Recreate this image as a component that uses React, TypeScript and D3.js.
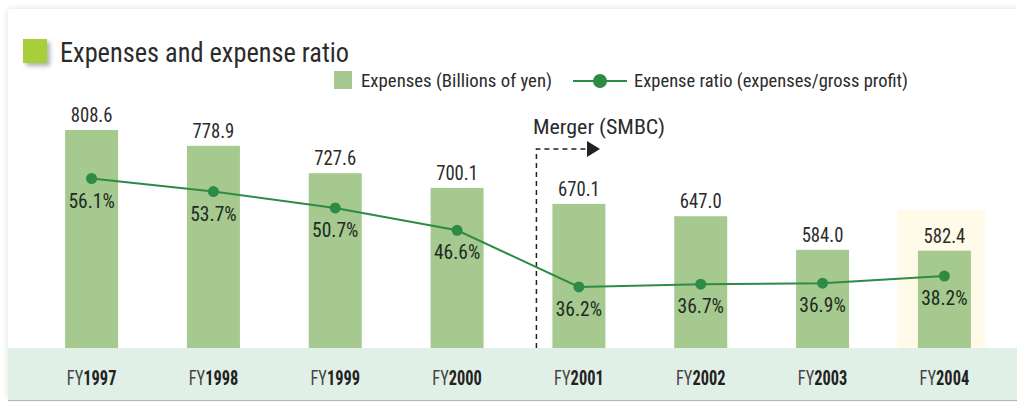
import React from "react";
import * as d3 from "d3";

const categories = ["1997", "1998", "1999", "2000", "2001", "2002", "2003", "2004"];
const expenses = [808.6, 778.9, 727.6, 700.1, 670.1, 647.0, 584.0, 582.4];
const ratios = [56.1, 53.7, 50.7, 46.6, 36.2, 36.7, 36.9, 38.2];
const expenseLabels = ["808.6", "778.9", "727.6", "700.1", "670.1", "647.0", "584.0", "582.4"];
const ratioLabels = ["56.1%", "53.7%", "50.7%", "46.6%", "36.2%", "36.7%", "36.9%", "38.2%"];

const W = 1017;
const H = 402;
const FONT = "'Liberation Sans Narrow', 'Roboto Condensed', 'Arial Narrow', sans-serif";

// approximate condensed width of a numeric label
const numWidth = (s: string) =>
  s.split("").reduce((a, ch) => a + (ch === "." ? 4.2 : ch === "%" ? 14 : 9.4), 0);

export default function App() {
  const x = d3.scaleBand<string>().domain(categories).range([31, 1005]).paddingInner(0.565).paddingOuter(0.28);
  const y = d3.scaleLinear().domain([400, 808.6]).range([348, 130]);
  const y2 = d3.scaleLinear().domain([25, 65]).range([348, 130]);
  const bw = x.bandwidth();
  const cx = (c: string) => (x(c) as number) + bw / 2;
  const line = d3
    .line<number>()
    .x((_, i) => cx(categories[i]))
    .y((d) => y2(d));

  const mergerX = (x("2001") as number) - 16;
  const last = categories[categories.length - 1];

  return (
    <svg width={W} height={H} style={{ position: "absolute", left: 0, top: 0 }} fontFamily={FONT}>
      <defs>
        <filter id="card" x="-5%" y="-5%" width="110%" height="110%">
          <feDropShadow dx="0" dy="0" stdDeviation="3" floodColor="#000" floodOpacity="0.12" />
        </filter>
        <filter id="sq" x="-50%" y="-50%" width="200%" height="200%">
          <feDropShadow dx="3" dy="3" stdDeviation="2" floodColor="#000" floodOpacity="0.3" />
        </filter>
      </defs>
      <rect x={0} y={0} width={W} height={H} fill="#ffffff" />
      <rect x={8} y={9} width={W} height={391} fill="#ffffff" filter="url(#card)" />
      <rect x={8} y={348} width={W} height={52} fill="#e1f0e6" />
      <line x1={8} x2={W} y1={400.5} y2={400.5} stroke="#b5b5b5" strokeWidth={1} />

      {/* title */}
      <rect x={23} y={39} width={24} height={24} fill="#a6cf3a" filter="url(#sq)" />
      <text x={60} y={62} fontSize={28} fill="#2b2b2b" textLength={289} lengthAdjust="spacingAndGlyphs">
        Expenses and expense ratio
      </text>

      {/* legend */}
      <rect x={334} y={71} width={18} height={18} fill="#a5c98f" />
      <text x={361} y={87} fontSize={19} fill="#2b2b2b" textLength={191} lengthAdjust="spacingAndGlyphs">
        Expenses (Billions of yen)
      </text>
      <line x1={573} x2={627} y1={81} y2={81} stroke="#2e8b45" strokeWidth={2} />
      <circle cx={600} cy={81} r={7} fill="#2e8b45" />
      <text x={634} y={87} fontSize={19} fill="#2b2b2b" textLength={274} lengthAdjust="spacingAndGlyphs">
        Expense ratio (expenses/gross profit)
      </text>

      {/* highlight */}
      <rect x={cx(last) - 47} y={210} width={88} height={138} fill="#fffbe8" />

      {/* bars */}
      {expenses.map((v, i) => (
        <rect key={"b" + i} x={x(categories[i])} y={y(v)} width={bw} height={348 - y(v)} fill="#a5c98f" />
      ))}
      {expenses.map((v, i) => (
        <text
          key={"bl" + i}
          x={cx(categories[i])}
          y={y(v) - 8}
          textAnchor="middle"
          fontSize={21}
          fill="#2b2b2b"
          textLength={numWidth(expenseLabels[i])}
          lengthAdjust="spacingAndGlyphs"
        >
          {expenseLabels[i]}
        </text>
      ))}

      {/* merger */}
      <path d={`M${mergerX},348 V149 H588`} fill="none" stroke="#222" strokeWidth={1.5} strokeDasharray="5,4" />
      <path d="M587,141 L600,149 L587,157 Z" fill="#222" />
      <text x={533} y={134} fontSize={21} fill="#2b2b2b" textLength={132} lengthAdjust="spacingAndGlyphs">
        Merger (SMBC)
      </text>

      {/* line */}
      <path d={line(ratios) || ""} fill="none" stroke="#2e8b45" strokeWidth={2} />
      {ratios.map((v, i) => (
        <circle key={"c" + i} cx={cx(categories[i])} cy={y2(v)} r={5.5} fill="#2e8b45" />
      ))}
      {ratios.map((v, i) => (
        <text
          key={"rl" + i}
          x={cx(categories[i])}
          y={y2(v) + 29}
          textAnchor="middle"
          fontSize={21}
          fill="#1f2a22"
          textLength={numWidth(ratioLabels[i])}
          lengthAdjust="spacingAndGlyphs"
        >
          {ratioLabels[i]}
        </text>
      ))}

      {/* x axis labels */}
      {categories.map((c) => (
        <text
          key={"x" + c}
          transform={`translate(${cx(c)},385) scale(0.78,1)`}
          textAnchor="middle"
          fontSize={21}
          fill="#222"
        >
          <tspan fill="#444">FY</tspan>
          <tspan fontWeight="bold">{c}</tspan>
        </text>
      ))}
    </svg>
  );
}
